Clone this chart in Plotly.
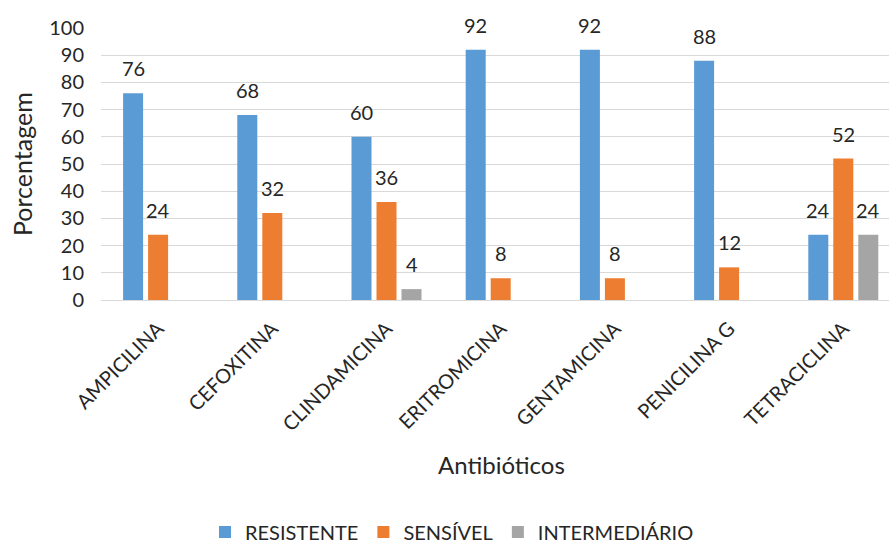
import plotly.graph_objects as go

# Antibiotic susceptibility profile (percent of isolates)
categorias = ["AMPICILINA", "CEFOXITINA", "CLINDAMICINA", "ERITROMICINA",
              "GENTAMICINA", "PENICILINA G", "TETRACICLINA"]
resistente = [76, 68, 60, 92, 92, 88, 24]
sensivel = [24, 32, 36, 8, 8, 12, 52]
intermediario = [None, None, 4, None, None, None, 24]
y_ticks = [0, 10, 20, 30, 40, 50, 60, 70, 80, 90, 100]

series = [
    ("RESISTENTE", resistente, "#5B9BD5"),
    ("SENSÍVEL", sensivel, "#ED7D31"),
    ("INTERMEDIÁRIO", intermediario, "#A5A5A5"),
]

FONT = "Lato"
TXT = "#262626"
W, H = 889, 547
ML, MR, MT, MB = 101, 0, 28, 247
plot_w = W - ML - MR
plot_h = H - MT - MB
slot_px = 114.2
bar_pitch = 25  # px between neighbouring bars of a group

fig = go.Figure()
annotations = []
for i, (name, vals, color) in enumerate(series):
    fig.add_trace(go.Bar(
        name=name, x=categorias, y=vals,
        marker=dict(color=color, line=dict(width=0)),
    ))
    for cat, v in zip(categorias, vals):
        if v is None:
            continue
        annotations.append(dict(
            x=cat, y=v, xref="x", yref="y", text=str(v), showarrow=False,
            xshift=(i - 1) * bar_pitch, yshift=25, yanchor="middle",
            font=dict(family=FONT, size=20, color=TXT),
        ))

# axis titles
annotations.append(dict(
    text="Porcentagem", xref="paper", yref="paper",
    x=(22 - ML) / plot_w, y=0.5, textangle=-90, showarrow=False,
    xanchor="center", yanchor="middle",
    font=dict(family=FONT, size=25, color=TXT),
))
annotations.append(dict(
    text="Antibióticos", xref="paper", yref="paper",
    x=(501 - ML) / plot_w, y=(300 - 465) / plot_h, showarrow=False,
    xanchor="center", yanchor="middle",
    font=dict(family=FONT, size=24, color=TXT),
))

x_end = -0.5 + plot_w / slot_px

fig.update_layout(
    width=W, height=H,
    margin=dict(l=ML, r=MR, t=MT, b=MB, autoexpand=False),
    paper_bgcolor="white", plot_bgcolor="white",
    barmode="group", bargap=1 - 3 * bar_pitch / slot_px, bargroupgap=0.2,
    font=dict(family=FONT, size=18, color=TXT),
    xaxis=dict(
        range=[-0.5, x_end], tickangle=-45, showgrid=False,
        showline=True, linecolor="#D9D9D9", linewidth=1,
        ticks="", ticklabelstandoff=8,
        tickfont=dict(family=FONT, size=20, color=TXT),
        automargin=False,
    ),
    yaxis=dict(
        range=[0, 100], tickvals=y_ticks, showgrid=True,
        gridcolor="#D9D9D9", gridwidth=1, zeroline=False,
        ticks="", ticklabelstandoff=16,
        tickfont=dict(family=FONT, size=20, color=TXT),
        automargin=False,
    ),
    legend=dict(
        orientation="h", xanchor="center", yanchor="middle",
        x=(452 - ML) / plot_w, y=(300 - 532) / plot_h,
        font=dict(family=FONT, size=20, color=TXT),
        itemwidth=30, tracegroupgap=0,
    ),
    showlegend=True,
    annotations=annotations,
)

fig.write_html("out.html")
